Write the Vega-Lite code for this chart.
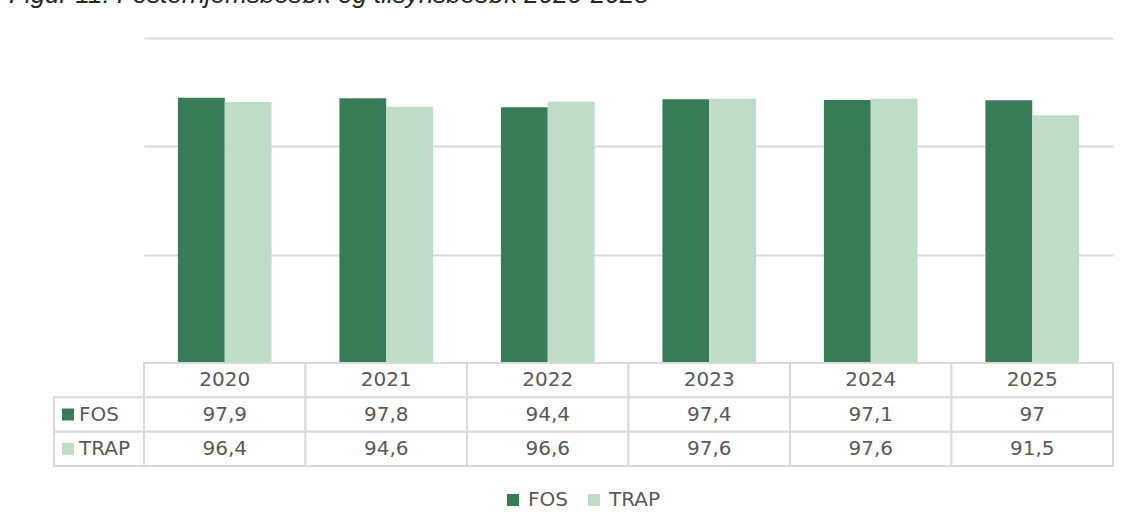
{
  "$schema": "https://vega.github.io/schema/vega-lite/v6.json",
  "autosize": {"type": "none"},
  "padding": {"left": 54, "top": 38, "right": 1076, "bottom": 493},
  "title": {"text": "Figur 11: Fosterhjemsbesøk og tilsynsbesøk 2020-2025", "anchor": "start", "fontStyle": "italic", "fontWeight": "normal", "fontSize": 26, "font": "Liberation Sans", "color": "#262626", "baseline": "alphabetic", "offset": 9, "dx": -44},
  "config": {
    "view": {"stroke": null},
    "font": "DejaVu Sans",
    "locale": {"number": {"decimal": ",", "thousands": " ", "grouping": [3], "currency": ["", ""]}}
  },
  "datasets": {
    "d": [
      {"year": "2020", "series": "FOS", "value": 97.9},
      {"year": "2021", "series": "FOS", "value": 97.8},
      {"year": "2022", "series": "FOS", "value": 94.4},
      {"year": "2023", "series": "FOS", "value": 97.4},
      {"year": "2024", "series": "FOS", "value": 97.1},
      {"year": "2025", "series": "FOS", "value": 97},
      {"year": "2020", "series": "TRAP", "value": 96.4},
      {"year": "2021", "series": "TRAP", "value": 94.6},
      {"year": "2022", "series": "TRAP", "value": 96.6},
      {"year": "2023", "series": "TRAP", "value": 97.6},
      {"year": "2024", "series": "TRAP", "value": 97.6},
      {"year": "2025", "series": "TRAP", "value": 91.5}
    ]
  },
  "data": {"name": "d"},
  "columns": 2,
  "spacing": 0,
  "bounds": "flush",
  "align": "each",
  "concat": [
    {
      "width": 90, "height": 325,
      "transform": [{"filter": "datum.value < 0"}],
      "mark": {"type": "text", "text": ""}
    },
    {
      "width": 969, "height": 325,
      "mark": {"type": "bar"},
      "encoding": {
        "x": {"field": "year", "type": "nominal", "axis": null, "scale": {"paddingInner": 0.42, "paddingOuter": 0.21}},
        "xOffset": {"field": "series", "type": "nominal", "scale": {"domain": ["FOS", "TRAP"]}},
        "y": {"field": "value", "type": "quantitative", "scale": {"domain": [0, 120], "nice": false},
              "axis": {"values": [40, 80, 120], "labels": false, "ticks": false, "domain": false, "title": null, "grid": true, "gridColor": "#d9d9d9", "gridWidth": 2}},
        "color": {"field": "series", "type": "nominal",
                  "scale": {"domain": ["FOS", "TRAP"], "range": ["#377b57", "#bfdcc8"]},
                  "legend": {"orient": "none", "legendX": 449, "legendY": 452, "direction": "horizontal", "title": null, "symbolType": "square", "symbolSize": 144, "symbolStrokeWidth": 0, "labelFontSize": 20, "labelColor": "#595959", "columnPadding": 16, "labelOffset": 5, "padding": 0}}
      }
    },
    {
      "width": 90, "height": 103,
      "transform": [{"filter": "datum.year == '2020'"}],
      "encoding": {
        "y": {"field": "series", "type": "nominal", "scale": {"domain": ["year", "FOS", "TRAP"], "paddingInner": 0, "paddingOuter": 0}, "axis": null}
      },
      "layer": [
        {"mark": {"type": "rect", "fill": "white", "stroke": "#d9d9d9", "strokeWidth": 2}},
        {"mark": {"type": "point", "shape": "square", "filled": true, "size": 144, "opacity": 1},
         "encoding": {"xOffset": {"value": -31}, "color": {"field": "series", "type": "nominal"}}},
        {"mark": {"type": "text", "align": "left", "dx": -20, "fontSize": 20, "color": "#595959"},
         "encoding": {"text": {"field": "series"}}}
      ]
    },
    {
      "width": 969, "height": 103,
      "layer": [
        {"mark": {"type": "rect", "fill": "white", "stroke": "#d9d9d9", "strokeWidth": 2},
         "encoding": {
           "x": {"field": "year", "type": "nominal", "axis": null, "scale": {"paddingInner": 0, "paddingOuter": 0}},
           "y": {"field": "series", "type": "nominal", "scale": {"domain": ["year", "FOS", "TRAP"], "paddingInner": 0, "paddingOuter": 0}, "axis": null}
         }},
        {"transform": [{"filter": "datum.series == 'FOS'"}],
         "mark": {"type": "rect", "fill": "white", "stroke": "#d9d9d9", "strokeWidth": 2},
         "encoding": {
           "x": {"field": "year", "type": "nominal", "axis": null},
           "y": {"datum": "year", "type": "nominal", "scale": {"domain": ["year", "FOS", "TRAP"], "paddingInner": 0, "paddingOuter": 0}, "axis": null}
         }},
        {"mark": {"type": "text", "fontSize": 20, "color": "#595959"},
         "encoding": {
           "x": {"field": "year", "type": "nominal", "axis": null},
           "y": {"field": "series", "type": "nominal", "scale": {"domain": ["year", "FOS", "TRAP"], "paddingInner": 0, "paddingOuter": 0}, "axis": null},
           "text": {"field": "value", "type": "quantitative", "format": ".3~r"}
         }},
        {"transform": [{"filter": "datum.series == 'FOS'"}],
         "mark": {"type": "text", "fontSize": 20, "color": "#595959"},
         "encoding": {
           "x": {"field": "year", "type": "nominal", "axis": null},
           "y": {"datum": "year", "type": "nominal", "scale": {"domain": ["year", "FOS", "TRAP"], "paddingInner": 0, "paddingOuter": 0}, "axis": null},
           "text": {"field": "year", "type": "nominal"}
         }}
      ]
    }
  ]
}
